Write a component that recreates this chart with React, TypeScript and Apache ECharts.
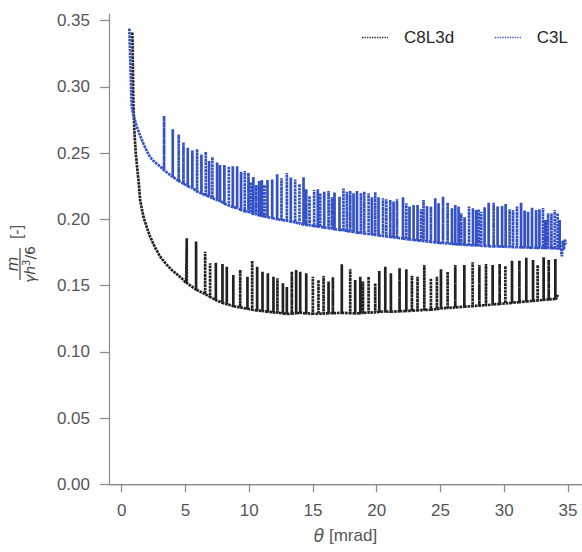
import React, { useEffect, useRef } from "react";
import * as echarts from "echarts";

// ---- axis ticks ----
const xTicks = [0, 5, 10, 15, 20, 25, 30, 35];
const yTicks = [0, 0.05, 0.1, 0.15, 0.2, 0.25, 0.3, 0.35];

// ---- C3L (blue) ----
const c3lHeadX = [0.6, 0.62, 0.7, 0.78, 0.9, 1.18, 1.45, 1.7, 2.0, 2.22, 2.5, 2.75, 3.0, 3.22];
const c3lHeadY = [0.344, 0.335, 0.31, 0.286, 0.279, 0.27, 0.263, 0.257, 0.251, 0.247, 0.244, 0.242, 0.24, 0.238];
const c3lSpikeX = [
  3.32, 4.0, 4.47, 4.84, 5.18, 5.54, 5.91, 6.25, 6.59, 6.85, 7.11, 7.48, 7.71, 8.05, 8.4, 8.71, 9.05, 9.36, 9.65, 9.94,
  10.12, 10.32, 10.55, 10.78, 10.99, 11.2, 11.43, 11.8, 12.19, 12.53, 12.95, 13.26, 13.6, 13.94,
  14.26, 14.47, 14.73, 15.09, 15.38, 15.57, 15.88, 16.22, 16.48, 16.69, 17.08, 17.39, 17.66, 17.92, 18.18, 18.45,
  18.76, 19.02, 19.36, 19.62, 19.88, 20.14, 20.49, 20.75, 21.06, 21.32, 21.59, 22.06, 22.32, 22.57, 22.89, 23.2,
  23.47, 23.67, 23.94, 24.25, 24.59, 24.85,
  25.2, 25.56, 25.9, 26.16, 26.42, 26.63, 26.89, 27.24, 27.55, 27.81, 27.99, 28.2, 28.46, 28.78, 29.17, 29.48,
  29.83, 30.11, 30.42, 30.69, 31.0, 31.32, 31.6, 31.87, 32.18, 32.5, 32.76, 33.04, 33.23, 33.44, 33.7, 33.96,
  34.19, 34.35,
];
const c3lPeak = [
  0.278, 0.268, 0.264, 0.258, 0.254, 0.252, 0.253, 0.249, 0.251, 0.244, 0.247, 0.243, 0.241, 0.241, 0.24, 0.24, 0.24, 0.236, 0.2365, 0.235,
  0.228, 0.232, 0.226, 0.229, 0.2297, 0.226, 0.2297, 0.23, 0.234, 0.231, 0.235, 0.2315, 0.23, 0.2267,
  0.2318, 0.2227, 0.2176, 0.2222, 0.2227, 0.2197, 0.2209, 0.2214, 0.2167, 0.2202, 0.2171, 0.2232, 0.2209, 0.2214, 0.2197, 0.2214,
  0.2197, 0.2209, 0.2197, 0.2167, 0.2206, 0.2167, 0.2159, 0.2152, 0.2146, 0.2134, 0.2152, 0.2167, 0.2121, 0.2096, 0.2109, 0.2109,
  0.2076, 0.2146, 0.2101, 0.2096, 0.2159, 0.2121,
  0.2171, 0.2126, 0.2084, 0.2109, 0.2096, 0.2046, 0.2016, 0.2096, 0.2084, 0.2071, 0.2076, 0.2058, 0.2091, 0.2126, 0.2126, 0.2096,
  0.2101, 0.2116, 0.2076, 0.2071, 0.2096, 0.2126, 0.2066, 0.2058, 0.2088, 0.2071, 0.2076, 0.2086, 0.1995, 0.2046, 0.2046, 0.2071,
  0.2046, 0.1995,
];
const c3lBase = [
  0.237, 0.232, 0.229, 0.227, 0.225, 0.2235, 0.221, 0.2195, 0.218, 0.2172, 0.216, 0.2145, 0.2138, 0.2118, 0.2105, 0.2092, 0.2085, 0.207, 0.2062, 0.2055,
  0.205, 0.2041, 0.2038, 0.203, 0.2025, 0.2022, 0.2016, 0.201, 0.2001, 0.1995, 0.199, 0.1982, 0.1978, 0.1968,
  0.1962, 0.1958, 0.1955, 0.195, 0.1944, 0.1942, 0.1938, 0.1933, 0.193, 0.1926, 0.1921, 0.1917, 0.1912, 0.1908, 0.1905, 0.19,
  0.1897, 0.1893, 0.189, 0.1886, 0.1882, 0.1878, 0.1875, 0.1871, 0.1868, 0.1864, 0.1861, 0.1855, 0.1851, 0.1848, 0.1845, 0.1841,
  0.1838, 0.1836, 0.1833, 0.183, 0.1826, 0.1823,
  0.182, 0.1818, 0.1815, 0.1813, 0.1811, 0.1809, 0.1808, 0.1806, 0.1804, 0.1803, 0.1802, 0.18, 0.1799, 0.1797, 0.1796, 0.1795,
  0.1794, 0.1793, 0.1792, 0.1791, 0.179, 0.1789, 0.1788, 0.1787, 0.1786, 0.1785, 0.1785, 0.1784, 0.1784, 0.1783, 0.1782, 0.1781,
  0.178, 0.178,
];
const c3lTailX = [34.45, 34.52, 34.6, 34.68, 34.75, 34.82];
const c3lTailY = [0.178, 0.172, 0.184, 0.177, 0.185, 0.181];

// ---- C8L3d (black) ----
const c8HeadX = [0.83, 0.85, 0.88, 0.91, 1.0, 1.1, 1.2, 1.33, 1.44, 1.7, 2.0, 2.22, 2.6, 3.0, 3.5, 3.92, 4.4, 4.84, 5.05];
const c8HeadY = [0.341, 0.33, 0.31, 0.288, 0.265, 0.25, 0.24, 0.228, 0.2146, 0.202, 0.193, 0.187, 0.179, 0.172, 0.166, 0.1618, 0.158, 0.1542, 0.152];
const c8SpikeX = [
  5.1, 5.83, 6.54, 6.93, 7.38, 7.9, 8.24, 8.75, 9.29, 9.86, 10.23, 10.62, 11.04, 11.46, 11.9, 12.21, 12.64, 12.95, 13.34, 13.68,
  14.0, 14.47, 14.99, 15.43, 15.83, 16.22, 16.56, 17.26, 17.92, 18.31, 18.71, 18.92, 19.36, 19.88, 20.2, 20.67, 21.11, 21.79,
  22.32, 22.76, 23.2, 23.73, 24.25, 24.72,
  25.04, 25.56, 26.16, 26.87, 27.52, 28.05, 28.57, 29.09, 29.64, 30.09, 30.61, 31.19, 31.73, 32.26, 32.62, 33.09, 33.49, 34.01,
];
const c8Peak = [
  0.1857, 0.1832, 0.1756, 0.1668, 0.1673, 0.1663, 0.1643, 0.158, 0.1618, 0.1567, 0.1688, 0.1643, 0.1605, 0.1593, 0.1567, 0.1555, 0.1517, 0.149, 0.1605, 0.1618,
  0.1605, 0.1593, 0.1567, 0.1542, 0.1572, 0.153, 0.1563, 0.1661, 0.1623, 0.1542, 0.1567, 0.153, 0.1567, 0.1517, 0.161, 0.1643, 0.1593, 0.1631,
  0.1623, 0.1575, 0.1567, 0.1656, 0.1555, 0.1567,
  0.1623, 0.1605, 0.1656, 0.1656, 0.1676, 0.1656, 0.1663, 0.1656, 0.1663, 0.1648, 0.1688, 0.1688, 0.1711, 0.1693, 0.1656, 0.1714, 0.1693, 0.1701,
];
const c8Base = [
  0.152, 0.147, 0.1435, 0.1415, 0.139, 0.137, 0.136, 0.1345, 0.1335, 0.1325, 0.1318, 0.1312, 0.1308, 0.1302, 0.1298, 0.1295, 0.129, 0.1286, 0.1288, 0.1292,
  0.1295, 0.129, 0.1288, 0.1287, 0.1289, 0.1291, 0.1292, 0.1294, 0.1292, 0.129, 0.1291, 0.1293, 0.1296, 0.1298, 0.1302, 0.1305, 0.1303, 0.1306,
  0.1308, 0.131, 0.1313, 0.1316, 0.1318, 0.1322,
  0.1328, 0.1331, 0.1335, 0.134, 0.1345, 0.1349, 0.1352, 0.1357, 0.1362, 0.1366, 0.137, 0.1375, 0.138, 0.1384, 0.1388, 0.1392, 0.1396, 0.14,
];
const c8TailX = [34.12, 34.2];
const c8TailY = [0.1405, 0.1435];

function buildSeries(hx: number[], hy: number[], sx: number[], peak: number[], base: number[], tx: number[], ty: number[]) {
  const out: number[][] = [];
  hx.forEach((x, i) => out.push([x, hy[i]]));
  sx.forEach((x, i) => {
    out.push([x, base[i]]);
    out.push([x, peak[i]]);
    out.push([x, base[i]]);
  });
  tx.forEach((x, i) => out.push([x, ty[i]]));
  return out;
}

const SANS = "Liberation Sans, Arial, sans-serif";
const MATH = "DejaVu Sans, sans-serif";
const SPINE = "#8c8c8c";
const LABEL = "#555555";

export default function App() {
  const ref = useRef<HTMLDivElement>(null);
  useEffect(() => {
    document.body.style.margin = "0";
    const chart = echarts.init(ref.current!, null, { renderer: "svg" });
    const c8Data = buildSeries(c8HeadX, c8HeadY, c8SpikeX, c8Peak, c8Base, c8TailX, c8TailY);
    const c3lData = buildSeries(c3lHeadX, c3lHeadY, c3lSpikeX, c3lPeak, c3lBase, c3lTailX, c3lTailY);
    chart.setOption({
      animation: false,
      backgroundColor: "#ffffff",
      grid: { left: 109, top: 14, right: 0, bottom: 67.7 },
      legend: {
        data: ["C8L3d", "C3L"],
        right: 9,
        top: 24,
        itemWidth: 26,
        itemHeight: 14,
        itemGap: 40,
        textStyle: { fontSize: 17, color: "#262626", fontFamily: SANS, padding: [0, 0, 0, 11] },
        itemStyle: { opacity: 0 },
        lineStyle: { width: 1.3, type: [1.3, 1.2] },
      },
      xAxis: [
        {
          type: "value",
          min: -1,
          max: 36.1,
          position: "bottom",
          axisLine: { show: true, onZero: false, lineStyle: { color: SPINE, width: 1.25 } },
          axisTick: { show: true, length: 8, customValues: xTicks, lineStyle: { color: SPINE, width: 1.25 } },
          axisLabel: { customValues: xTicks, margin: 18, fontSize: 17, color: LABEL, fontFamily: SANS },
          splitLine: { show: false },
          name: "{i|θ} [mrad]",
          nameLocation: "middle",
          nameGap: 43,
          nameTextStyle: {
            fontSize: 17,
            color: LABEL,
            fontFamily: SANS,
            rich: { i: { fontSize: 17, color: LABEL, fontFamily: MATH, fontStyle: "italic" } },
          },
        },
        {
          type: "value",
          min: -1,
          max: 36.1,
          position: "top",
          axisLine: { show: true, lineStyle: { color: SPINE, width: 1.25 } },
          axisTick: { show: false },
          axisLabel: { show: false },
          splitLine: { show: false },
        },
      ],
      yAxis: {
        type: "value",
        min: 0,
        max: 0.355,
        axisLine: { show: true, onZero: false, lineStyle: { color: SPINE, width: 1.25 } },
        axisTick: { show: true, length: 9, customValues: yTicks, lineStyle: { color: SPINE, width: 1.25 } },
        axisLabel: {
          customValues: yTicks,
          margin: 19,
          fontSize: 17,
          color: LABEL,
          fontFamily: SANS,
          formatter: (v: number) => v.toFixed(2),
        },
        splitLine: { show: false },
      },
      graphic: [
        {
          type: "group",
          x: 20,
          y: 264,
          rotation: Math.PI / 2,
          children: [
            { type: "text", x: 0, y: -7, style: { text: "m", fill: "#444", font: "italic 15px DejaVu Sans", align: "center", verticalAlign: "middle" } },
            { type: "line", shape: { x1: -16, y1: 0, x2: 16, y2: 0 }, style: { stroke: "#444", lineWidth: 1.2 } },
            { type: "text", x: -19, y: 3, style: { text: "γh", fill: "#444", font: "italic 14px DejaVu Sans", align: "left", verticalAlign: "top" } },
            { type: "text", x: -2, y: 1, style: { text: "3", fill: "#444", font: "10px DejaVu Sans", align: "left", verticalAlign: "top" } },
            { type: "text", x: 4.4, y: 3, style: { text: "/6", fill: "#444", font: "14px DejaVu Sans", align: "left", verticalAlign: "top" } },
            { type: "text", x: 32, y: -4, style: { text: "[-]", fill: LABEL, font: "16px Liberation Sans", align: "center", verticalAlign: "middle" } },
          ],
        },
      ],
      series: [
        {
          name: "C8L3d",
          type: "line",
          data: c8Data,
          symbol: "none",
          color: "#222222",
          lineStyle: { color: "#222222", width: 2.7, type: [2.6, 0.8] },
          z: 2,
        },
        {
          name: "C3L",
          type: "line",
          data: c3lData,
          symbol: "none",
          color: "#3451c6",
          lineStyle: { color: "#3451c6", width: 2.7, type: [2.6, 0.8] },
          z: 3,
        },
      ],
    });
    return () => chart.dispose();
  }, []);
  return <div ref={ref} style={{ width: 582, height: 552 }} />;
}
